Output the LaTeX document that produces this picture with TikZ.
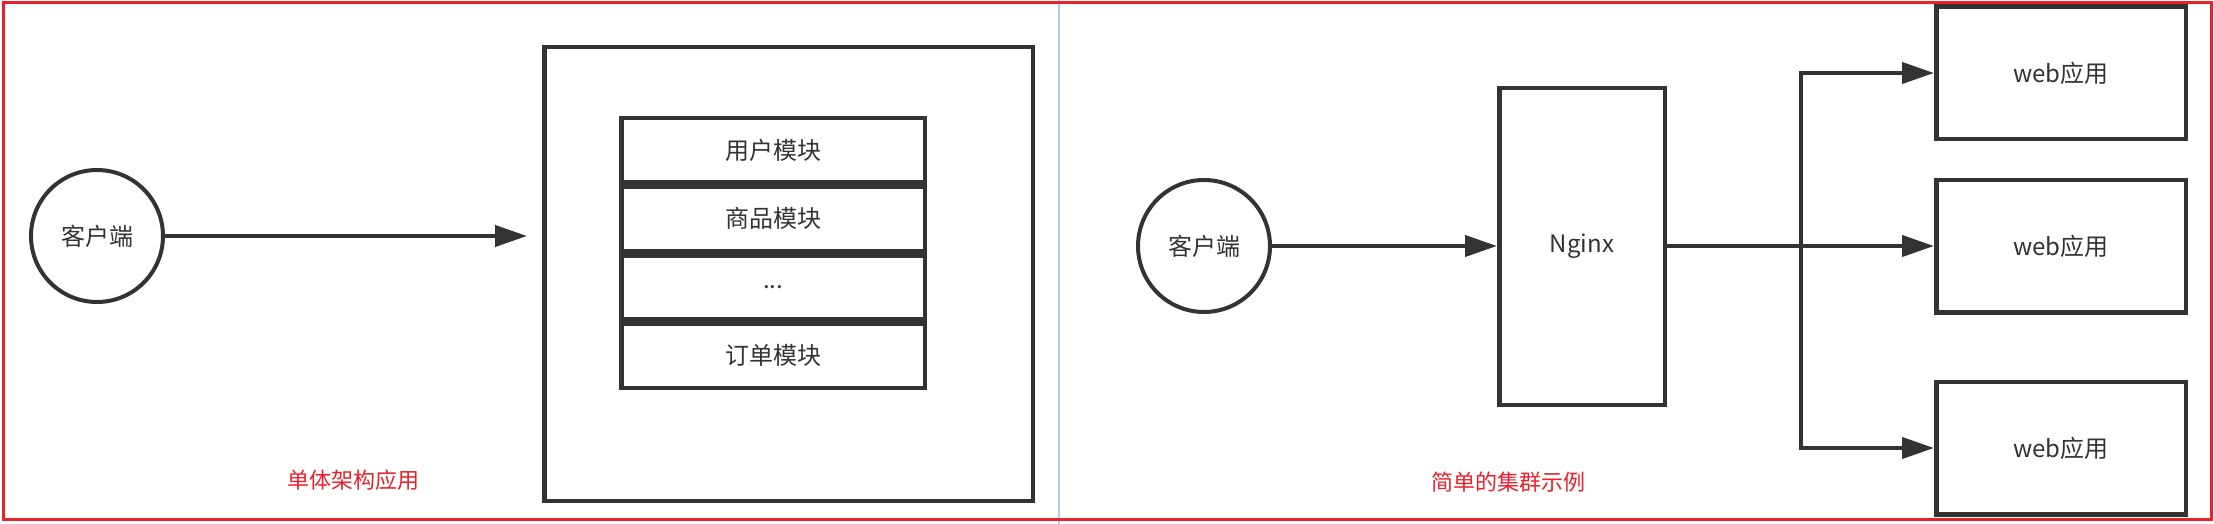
\documentclass[tikz,border=0pt]{standalone}
\usepackage{fontspec}
\setmainfont{Noto Sans CJK SC}
\usetikzlibrary{arrows.meta}
\definecolor{ln}{HTML}{333333}
\definecolor{rd}{HTML}{E8212B}
\definecolor{bl}{HTML}{B0CCF2}
\begin{document}
\begin{tikzpicture}[x=1pt,y=-1pt,
  box/.style={draw=ln, line width=4.5pt, fill=white, text=ln, inner sep=0pt, font=\fontsize{24}{28}\selectfont},
  circ/.style={box, line width=4pt, circle, minimum size=132},
  modbox/.style={box, minimum width=303.5, minimum height=64},
  webbox/.style={box, minimum width=249.5, minimum height=132.5},
  conn/.style={draw=ln, line width=4pt, -{Triangle[length=32pt,width=21pt]}},
  sep/.style={draw=ln, line width=7pt},
  lab/.style={text=rd, font=\fontsize{22}{26}\selectfont, inner sep=0pt}]
\useasboundingbox (0,0) rectangle (2214,524);
% divider
\draw[bl, line width=2pt] (1059,0) -- (1059,524);
% frame
\draw[rd, line width=3pt] (3.5,2.5) rectangle (2211,519.5);

% left: monolith
\node[circ] (c1) at (97,236) {客户端};
\node[box, minimum width=488.5, minimum height=453.5] (mono) at (788.5,274) {};
\node[modbox] (m1) at (773,150.25) {用户模块};
\node[modbox] (m2) at (773,218.75) {商品模块};
\node[modbox] (m3) at (773,287.25) {...};
\node[modbox] (m4) at (773,355.75) {订单模块};
\draw[sep] (m1.south west) -- (m1.south east);
\draw[sep] (m3.south west) -- (m3.south east);
\draw[conn, shorten >=15pt] (c1) -- (c1 -| mono.west);
\node[lab] (t1) at (353,480) {单体架构应用};

% right: cluster
\node[circ] (c2) at (1204,246) {客户端};
\node[box, minimum width=165.5, minimum height=316.5] (ng) at (1582,246.5) {Nginx};
\node[webbox] (w1) at (2061,73) {web应用};
\node[webbox] (w2) at (2061,246) {web应用};
\node[webbox] (w3) at (2061,448) {web应用};
\draw[conn] (c2) -- (c2 -| ng.west);
\coordinate (split) at (1801,246);
\draw[conn] (ng.east |- split) -- (split -| w2.west);
\draw[conn] (split) |- (w1.west);
\draw[conn] (split) |- (w3.west);
\node[lab] (t2) at (1508,482) {简单的集群示例};
\end{tikzpicture}
\end{document}
